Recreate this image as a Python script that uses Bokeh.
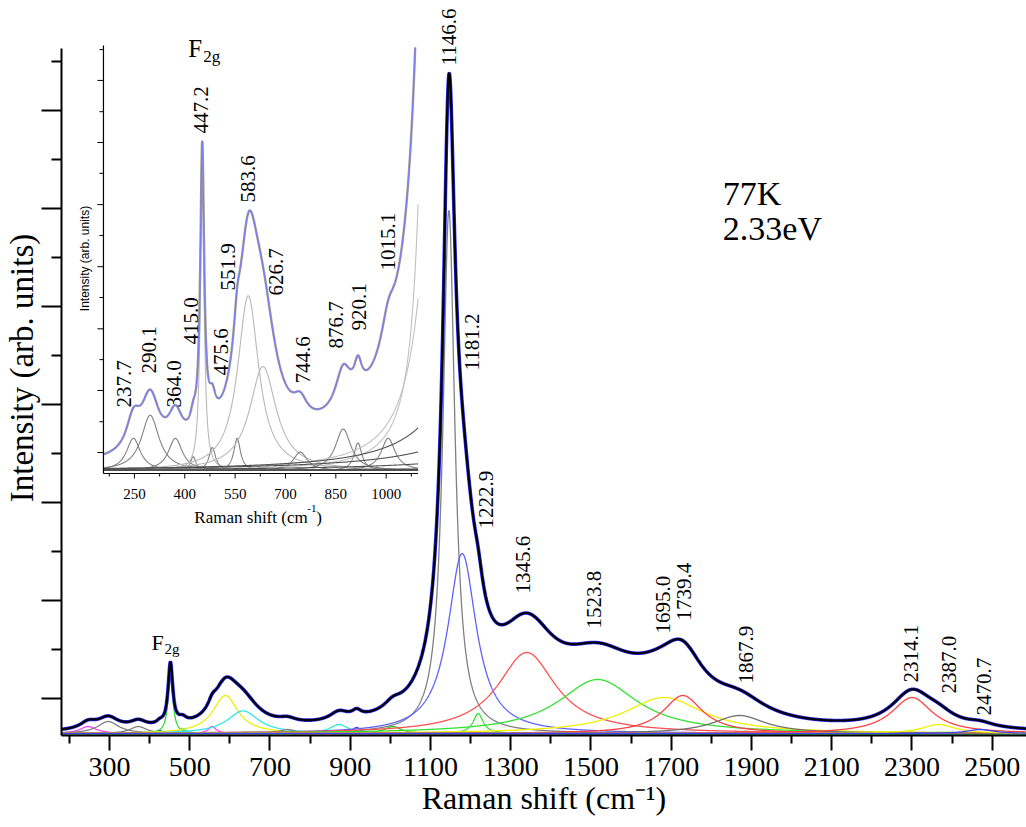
import numpy as np
from bokeh.plotting import figure
from bokeh.models import (Range1d, FixedTicker, Label, LabelSet, ColumnDataSource,
                          CustomJSTickFormatter)
from bokeh.core.properties import value
from bokeh.embed import file_html
from bokeh.resources import INLINE

# ---------------- data: fitted Lorentzian components ----------------
# low-frequency bands (cm-1, intensity a.u., half width cm-1)
low_centers = [247, 297, 372, 425, 452, 482, 556, 589, 633, 744, 872, 916, 1006]
low_heights = [7, 12, 7, 3, 62, 5, 7, 38, 22.6, 4, 9, 6, 7]
low_hwhm = [25, 32, 25, 10, 7, 12, 12, 38, 48, 25, 28, 14, 25]
# high-frequency bands
high_centers = [1146, 1179, 1219, 1340, 1517, 1682, 1729, 1870, 2300, 2366, 2470]
high_heights = [523, 180, 20, 81, 54, 36, 38, 18, 36, 9, 4]
high_hwhm = [18, 43, 15, 88, 120, 120, 60, 80, 62, 50, 40]

main_peak_labels = ["1146.6", "1181.2", "1222.9", "1345.6", "1523.8", "1695.0",
                    "1739.4", "1867.9", "2314.1", "2387.0", "2470.7"]
inset_peak_labels = ["237.7", "290.1", "364.0", "415.0", "447.2", "475.6", "551.9",
                     "583.6", "626.7", "744.6", "876.7", "920.1", "1015.1"]
main_x_ticks = [300, 500, 700, 900, 1100, 1300, 1500, 1700, 1900, 2100, 2300, 2500]
main_x_minor = [200, 400, 600, 800, 1000, 1200, 1400, 1600, 1800, 2000, 2200, 2400]
inset_x_ticks = [250, 400, 550, 700, 850, 1000]
inset_x_minor = [175, 325, 475, 625, 775, 925, 1075]

# ---------------- styles ----------------
low_colors_main = ["#ff40ff", "#808080", "#808080", "#4040ff", "#22dd22", "#33dddd",
                   "#ff40ff", "#eeee00", "#33e5e5", "#808080", "#33e5e5", "#4040ff", "#22cc22"]
high_colors_main = ["#808080", "#6060ff", "#33dd33", "#ff5050", "#33e033", "#f0f000",
                    "#ff4040", "#707070", "#ff4040", "#f0f000", "#4040ff"]
low_colors_inset = ["#808080", "#808080", "#808080", "#808080", "#b8b8b8", "#808080",
                    "#808080", "#b8b8b8", "#b8b8b8", "#808080", "#808080", "#808080", "#808080"]
high_colors_inset = ["#c0c0c0", "#c0c0c0", "#505050", "#505050", "#505050", "#505050",
                     "#505050", "#505050", "#505050", "#505050", "#505050"]

SERIF = "Liberation Serif"

centers = low_centers + high_centers
heights = low_heights + high_heights
hwhm = low_hwhm + high_hwhm


def lorentz(x, c, h, w):
    return h / (1.0 + ((x - c) / w) ** 2)


# ---------------- figure geometry ----------------
FL, FR, FT, FB = 60, 1026, 0, 735
X_START, X_END = 180.5, 2585.5
Y_START, Y_END = -2.0, -2.0 + (FB - FT)
AXIS_TOP = 733 - 48


def px2x(X):
    return X_START + (X - FL) * (X_END - X_START) / (FR - FL)


def px2y(Y):
    return Y_START + (FB - Y) * (Y_END - Y_START) / (FB - FT)


p = figure(width=1026, height=827, x_range=Range1d(X_START, X_END),
           y_range=Range1d(Y_START, Y_END), output_backend="svg", toolbar_location=None,
           min_border_left=FL, min_border_right=0, min_border_top=FT,
           min_border_bottom=827 - FB)
p.outline_line_color = None
p.grid.visible = False
p.background_fill_color = "white"
p.border_fill_color = "white"

# inset ranges (mapped onto the full frame)
IK = 0.336          # px per cm-1 in inset
IX0, IXP = 157.7, 102  # inset left value / pixel
IS = 4.6            # px per intensity unit in inset
IYP = 470           # inset zero pixel
IN_TOP = (IYP - 45) / IS
IN_XEND = 1095.0
p.extra_x_ranges = {"inset": Range1d(IX0 - (IXP - FL) / IK, IX0 + (FR - IXP) / IK)}
p.extra_y_ranges = {"inset": Range1d(-(FB - IYP) / IS, (IYP - FT) / IS)}

# ---------------- main spectrum ----------------
x = np.arange(180.0, 2586.0, 0.5)
total = np.zeros_like(x)
for c, h, w, col in zip(centers, heights, hwhm, low_colors_main + high_colors_main):
    y = lorentz(x, c, h, w)
    total += y
    p.line(x, y, line_color=col, line_width=1.3)
p.line(x, total, line_color="#2a2aff", line_width=3.6)
p.line(x, total, line_color="black", line_width=2.2)

# ---------------- inset spectrum ----------------
xi = np.arange(IX0, IN_XEND, 0.25)
ti = np.zeros_like(xi)
for c, h, w, col in zip(centers, heights, hwhm, low_colors_inset + high_colors_inset):
    yi = lorentz(xi, c, h, w)
    ti += yi
    yi = np.where(yi > IN_TOP, np.nan, yi)
    p.line(xi, yi, line_color=col, line_width=1.1, x_range_name="inset", y_range_name="inset")
ti = np.where(ti > IN_TOP, np.nan, ti)
p.line(xi, ti, line_color="#9c9c9c", line_width=2.4, x_range_name="inset", y_range_name="inset")
p.line(xi, ti, line_color="#7a7aff", line_width=1.1, x_range_name="inset", y_range_name="inset")

# inset axes
IY_BOT = -3 / IS
p.line([IX0, IX0], [IY_BOT, IN_TOP], line_color="black", line_width=1.2,
       x_range_name="inset", y_range_name="inset")
p.line([IX0, IN_XEND], [IY_BOT, IY_BOT], line_color="black", line_width=1.2,
       x_range_name="inset", y_range_name="inset")
iy_ticks = [3.9, 10.6, 17.4, 24.1, 30.8, 37.6, 44.3, 51.1, 57.8, 64.6, 71.3, 78.0, 84.8, 91.5]
tl = [6 if i % 2 == 0 else 4 for i in range(len(iy_ticks))]
p.segment(x0=[IX0 - t / IK for t in tl], y0=iy_ticks, x1=[IX0] * len(iy_ticks), y1=iy_ticks,
          line_color="black", line_width=1, x_range_name="inset", y_range_name="inset")
p.segment(x0=inset_x_ticks, y0=[IY_BOT] * 6, x1=inset_x_ticks, y1=[IY_BOT - 5 / IS] * 6,
          line_color="black", line_width=1, x_range_name="inset", y_range_name="inset")
p.segment(x0=inset_x_minor, y0=[IY_BOT] * 7, x1=inset_x_minor, y1=[IY_BOT - 3 / IS] * 7,
          line_color="black", line_width=1, x_range_name="inset", y_range_name="inset")
p.add_layout(LabelSet(source=ColumnDataSource(dict(x=inset_x_ticks,
                                                   y=[(IYP - 498) / IS] * 6,
                                                   t=[str(v) for v in inset_x_ticks])),
                      x="x", y="y", text="t", text_align="center", text_baseline="alphabetic",
                      text_font=value(SERIF), text_font_size="15px", text_color="black",
                      x_range_name="inset", y_range_name="inset"))

# ---------------- main axes ----------------
xa = p.xaxis[0]
xa.ticker = FixedTicker(ticks=main_x_ticks, minor_ticks=main_x_minor)
xa.axis_line_width = 2
xa.major_tick_line_width = 2
xa.minor_tick_line_width = 2
xa.major_tick_in = 0
xa.major_tick_out = 15
xa.minor_tick_in = 0
xa.minor_tick_out = 8
xa.major_label_text_font = SERIF
xa.major_label_text_font_size = "28px"
xa.major_label_text_color = "black"
xa.major_label_standoff = 7
xa.axis_label = "Raman shift (cm\u207b\u00b9)"
xa.axis_label_text_font = SERIF
xa.axis_label_text_font_size = "32px"
xa.axis_label_text_font_style = "normal"
xa.axis_label_text_color = "black"
xa.axis_label_standoff = 1

ya = p.yaxis[0]
ya.ticker = FixedTicker(ticks=[35, 133, 231, 329, 427, 525, 623],
                        minor_ticks=[84, 182, 280, 378, 476, 574, 672])
ya.formatter = CustomJSTickFormatter(code="return ''")
ya.bounds = (Y_START, AXIS_TOP)
ya.axis_line_width = 2
ya.major_tick_line_width = 2
ya.minor_tick_line_width = 2
ya.major_tick_in = 0
ya.major_tick_out = 20
ya.minor_tick_in = 0
ya.minor_tick_out = 10
ya.major_label_standoff = 0
ya.major_label_text_font_size = "0px"
ya.axis_label = "Intensity (arb. units)"
ya.axis_label_text_font = SERIF
ya.axis_label_text_font_size = "33px"
ya.axis_label_text_font_style = "normal"
ya.axis_label_text_color = "black"
ya.axis_label_standoff = 2


# ---------------- texts ----------------
def lab(text, X, Y, size, angle=0.0, align="left", baseline="alphabetic", font=SERIF):
    p.add_layout(Label(x=px2x(X), y=px2y(Y), text=text, angle=angle, text_align=align,
                       text_baseline=baseline, text_font=font, text_font_size=size,
                       text_color="black"))


# inset axis titles
lab("Intensity (arb. units)", 84, 258, "12px", angle=np.pi / 2, align="center",
    baseline="middle", font="Liberation Sans")
lab("Raman shift (cm", 193, 517, "17px")
lab("-1", 306, 508, "11px")
lab(")", 315, 517, "17px")

# annotations
lab("77K", 722, 193, "34px")
lab("2.33eV", 722, 228, "34px")
lab("F", 150, 642, "22px")
lab("2g", 163, 648, "15px")
lab("F", 187, 48, "25px")
lab("2g", 202, 56, "17px")

main_lab_X = [448, 471, 485, 522, 593, 662, 683, 745, 910, 948, 983]
main_lab_Y = [65, 370, 528, 593, 628, 633, 620, 683, 682, 693, 715]
inset_lab_X = [123, 148, 173, 190, 200, 220, 227, 247, 275, 302, 335, 358, 387]
inset_lab_Y = [407, 373, 407, 344, 133, 375, 290, 202, 295, 383, 348, 330, 270]
src = ColumnDataSource(dict(
    x=[px2x(v) for v in main_lab_X + inset_lab_X],
    y=[px2y(v) for v in main_lab_Y + inset_lab_Y],
    t=main_peak_labels + inset_peak_labels))
p.add_layout(LabelSet(source=src, x="x", y="y", text="t", angle=np.pi / 2,
                      text_align="left", text_baseline="middle", text_font=value(SERIF),
                      text_font_size="21px", text_color="black"))

open("out.html", "w").write(file_html(p, INLINE))
